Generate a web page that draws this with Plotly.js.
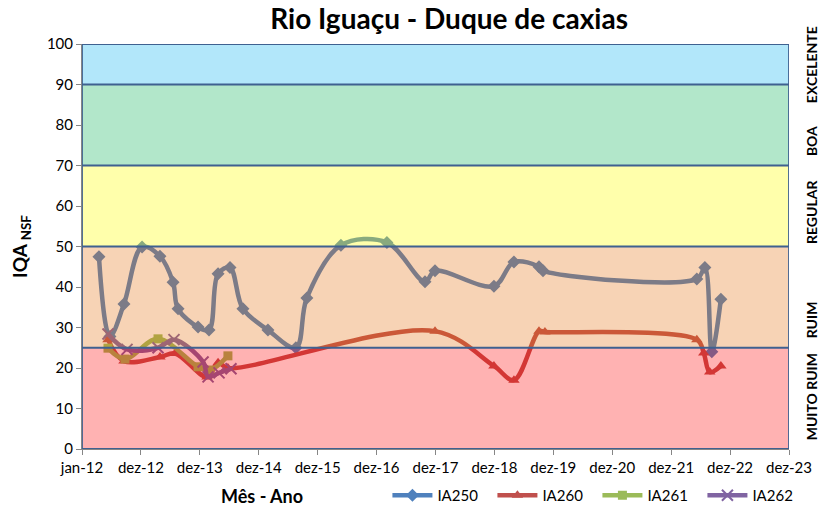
<!DOCTYPE html>
<html>
<head>
<meta charset="utf-8">
<script src="https://cdn.plot.ly/plotly-3.0.1.min.js"></script>
<style>html,body{margin:0;padding:0;background:#fff;}#chart{width:821px;height:509px;}</style>
</head>
<body>
<div id="chart"></div>
<script>
// ---- Data ----
const seriesNames = ['IA250', 'IA260', 'IA261', 'IA262'];

const ia250Dates = ['2012-04-15','2012-06-22','2012-09-17','2013-01-07','2013-04-28','2013-07-18','2013-08-18','2013-12-20','2014-02-26','2014-04-23','2014-07-06','2014-09-24','2015-02-26','2015-08-18','2015-10-25','2016-05-23','2017-03-04','2017-10-26','2017-12-27','2018-12-27','2019-04-30','2019-10-02','2019-10-27','2022-06-06','2022-07-26','2022-09-07','2022-11-02'];
const ia250Values = [47.5, 27.8, 35.8, 49.9, 47.6, 41.2, 34.6, 30.1, 29.4, 43.3, 44.8, 34.6, 29.4, 25.0, 37.3, 50.3, 51.0, 41.3, 44.0, 40.2, 46.2, 45.0, 44.0, 42.0, 44.8, 24.0, 37.0];

const ia260Dates = ['2012-06-10','2012-09-17','2013-04-28','2013-07-30','2014-02-13','2014-04-23','2014-06-23','2017-12-27','2018-12-27','2019-04-30','2019-10-02','2019-11-08','2022-06-06','2022-07-19','2022-08-25','2022-11-02'];
const ia260Values = [27.0, 21.7, 22.7, 23.6, 17.8, 21.3, 20.0, 29.1, 20.5, 17.0, 29.1, 28.9, 27.0, 23.7, 19.0, 20.5];

const ia261Dates = ['2012-06-10','2012-09-23','2013-04-16','2013-12-20','2014-03-04','2014-06-23'];
const ia261Values = [24.9, 22.2, 27.2, 20.3, 19.5, 23.0];

const ia262Dates = ['2012-06-10','2012-10-06','2013-04-16','2013-07-24','2014-01-20','2014-02-20','2014-04-29','2014-07-12'];
const ia262Values = [28.4, 24.6, 25.0, 27.0, 21.5, 17.8, 18.8, 19.8];

const tickDates = ['2012-01-01','2012-12-31','2013-12-31','2014-12-31','2015-12-31','2016-12-30','2017-12-30','2018-12-30','2019-12-30','2020-12-29','2021-12-29','2022-12-29','2023-12-29'];
const tickLabels = ['jan-12','dez-12','dez-13','dez-14','dez-15','dez-16','dez-17','dez-18','dez-19','dez-20','dez-21','dez-22','dez-23'];

const bandLimits = [0, 25, 50, 70, 90, 100];
const bandNames = ['MUITO RUIM', 'RUIM', 'REGULAR', 'BOA', 'EXCELENTE'];
const bandColors = ['rgba(255,0,0,0.30)', 'rgba(228,108,10,0.30)', 'rgba(255,255,0,0.33)', 'rgba(0,176,80,0.30)', 'rgba(0,176,240,0.30)'];
const bandLabelY = [13, 32, 58.5, 76, 95];

// ---- Traces ----
const FONT = 'Lato, "Open Sans", sans-serif';
const styles = [
  {color: '#4F81BD', symbol: 'diamond', size: 10},
  {color: '#C0504D', symbol: 'triangle-up', size: 10},
  {color: '#9BBB59', symbol: 'square', size: 9},
  {color: '#8064A2', symbol: 'x-thin-open', size: 11}
];
const xs = [ia250Dates, ia260Dates, ia261Dates, ia262Dates];
const ys = [ia250Values, ia260Values, ia261Values, ia262Values];

const traces = seriesNames.map((n, i) => ({
  type: 'scatter', mode: 'lines+markers', name: n,
  x: xs[i], y: ys[i],
  line: {color: styles[i].color, width: 4.5, shape: 'spline', smoothing: 1},
  marker: {color: styles[i].color, symbol: styles[i].symbol, size: styles[i].size,
           line: {color: styles[i].color, width: styles[i].symbol === 'x-thin-open' ? 2 : 0}}
}));

// ---- Bands (semi-transparent, drawn over the series as in the original) ----
const xStart = tickDates[0], xEnd = tickDates[tickDates.length - 1];
const shapes = [];
for (let i = 0; i < bandNames.length; i++) {
  shapes.push({type: 'rect', layer: 'above', xref: 'x', yref: 'y',
    x0: xStart, x1: xEnd, y0: bandLimits[i], y1: bandLimits[i + 1],
    fillcolor: bandColors[i], line: {width: 0}});
}
for (let i = 0; i < bandLimits.length; i++) {
  shapes.push({type: 'line', layer: 'above', xref: 'x', yref: 'y',
    x0: xStart, x1: xEnd, y0: bandLimits[i], y1: bandLimits[i],
    line: {color: '#3F6190', width: 1.8}});
}
shapes.push({type: 'line', layer: 'above', xref: 'x', yref: 'y', x0: xStart, x1: xStart, y0: 0, y1: 100, line: {color: '#3F6190', width: 1.8}});
shapes.push({type: 'line', layer: 'above', xref: 'x', yref: 'y', x0: xEnd, x1: xEnd, y0: 0, y1: 100, line: {color: '#3F6190', width: 1.8}});

const annotations = bandNames.map((n, i) => ({
  text: '<b>' + n + '</b>', xref: 'paper', yref: 'y', x: 1.031, y: bandLabelY[i],
  textangle: -90, showarrow: false, font: {family: FONT, size: 14, color: '#000'},
  xanchor: 'center', yanchor: 'middle'
}));
annotations.push({text: '<b>Mês - Ano</b>', xref: 'paper', yref: 'paper', x: 0.254, y: -0.115,
  showarrow: false, font: {family: FONT, size: 18, color: '#000'}, xanchor: 'center', yanchor: 'middle'});

const layout = {
  width: 821, height: 509,
  margin: {l: 82, r: 32, t: 44, b: 60, autoexpand: false},
  paper_bgcolor: '#fff', plot_bgcolor: '#fff',
  font: {family: FONT, size: 15, color: '#000'},
  title: {text: '<b>Rio Iguaçu - Duque de caxias</b>', x: 0.547, xanchor: 'center', y: 0.962, yanchor: 'middle',
          font: {family: FONT, size: 28, color: '#000'}},
  xaxis: {type: 'date', range: [xStart, xEnd], tickmode: 'array', tickvals: tickDates, ticktext: tickLabels,
          showgrid: false, zeroline: false, showline: true, linecolor: '#868686', linewidth: 1,
          ticks: 'outside', ticklen: 5, tickcolor: '#868686', tickfont: {family: FONT, size: 15, color: '#000'}},
  yaxis: {range: [0, 100], tickmode: 'linear', tick0: 0, dtick: 10, showgrid: false, zeroline: false,
          showline: true, linecolor: '#868686', ticks: 'outside', ticklen: 5, tickcolor: '#868686',
          tickfont: {family: FONT, size: 15, color: '#000'},
          title: {text: '<b>IQA <sub>NSF</sub></b>', standoff: 14, font: {family: FONT, size: 19, color: '#000'}}},
  showlegend: true,
  legend: {orientation: 'h', x: 0.432, xanchor: 'left', y: -0.115, yanchor: 'middle',
           font: {family: FONT, size: 15, color: '#000'}, entrywidth: 50, entrywidthmode: 'pixels',
           bgcolor: 'rgba(0,0,0,0)', tracegroupgap: 0, itemwidth: 40},
  shapes: shapes,
  annotations: annotations
};

Plotly.newPlot('chart', traces, layout, {displayModeBar: false, staticPlot: true});
</script>
</body>
</html>
